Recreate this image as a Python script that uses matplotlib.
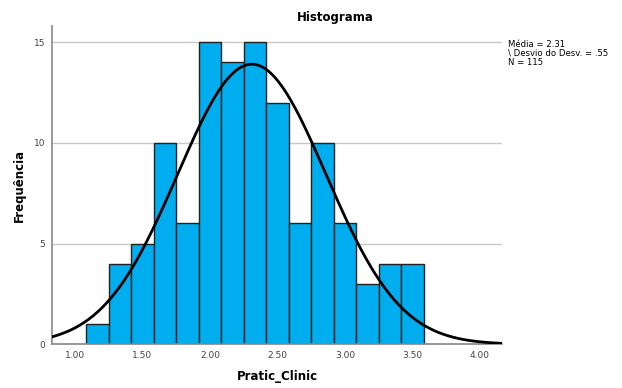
import matplotlib.pyplot as plt
import numpy as np

# histogram counts per bin (bins of width 1/6 centred on k/6)
counts = [1, 4, 5, 10, 6, 15, 14, 15, 12, 6, 10, 6, 3, 4, 4]
first_edge = 13 / 12
bin_width = 1 / 6

mean = 2.31
std = 0.55
n = 115

x_ticks = [1.0, 1.5, 2.0, 2.5, 3.0, 3.5, 4.0]
y_ticks = [0, 5, 10, 15]

fig = plt.figure(figsize=(6.22, 3.88), dpi=100)
ax = fig.add_axes([0.0841, 0.1126, 0.7229, 0.8204])

lefts = first_edge + bin_width * np.arange(len(counts))
ax.bar(lefts, counts, width=bin_width, align="edge", color="#00adef",
       edgecolor="#222222", linewidth=1.0, zorder=2)

# fitted normal curve scaled to the counts
xs = np.linspace(0.832, 4.163, 300)
ys = n * bin_width / (std * np.sqrt(2 * np.pi)) * np.exp(-0.5 * ((xs - mean) / std) ** 2)
ax.plot(xs, ys, color="black", linewidth=2.0, zorder=3)

ax.set_xlim(0.832, 4.163)
ax.set_ylim(0, 15.8)
ax.set_xticks(x_ticks, [f"{t:.2f}" for t in x_ticks])
ax.set_yticks(y_ticks)
ax.yaxis.grid(True, color="#c8c8c8", linewidth=1.0, zorder=0)
ax.set_axisbelow(True)

for side in ["top", "right"]:
    ax.spines[side].set_visible(False)
for side in ["left", "bottom"]:
    ax.spines[side].set_color("#888888")
    ax.spines[side].set_linewidth(1.2)

ax.tick_params(length=0, labelsize=6.5, labelcolor="#444444")
ax.tick_params(axis="x", pad=5)
ax.tick_params(axis="y", pad=5)

ax.set_xlabel("Pratic_Clinic", fontsize=8.5, fontweight="bold")
ax.set_ylabel("Frequência", fontsize=8.5, fontweight="bold")
ax.xaxis.set_label_coords(0.5, -0.08)
ax.yaxis.set_label_coords(-0.058, 0.5)

fig.text(0.539, 1 - 18 / 388, "Histograma", ha="center", va="center",
         fontsize=8.5, fontweight="bold")
fig.text(508 / 622, 1 - 40 / 388,
         f"Média = {mean:.2f}\n\\ Desvio do Desv. = .55\nN = {n}",
         ha="left", va="top", fontsize=6.1, linespacing=1.0)

fig.savefig("out.png", dpi=100)
